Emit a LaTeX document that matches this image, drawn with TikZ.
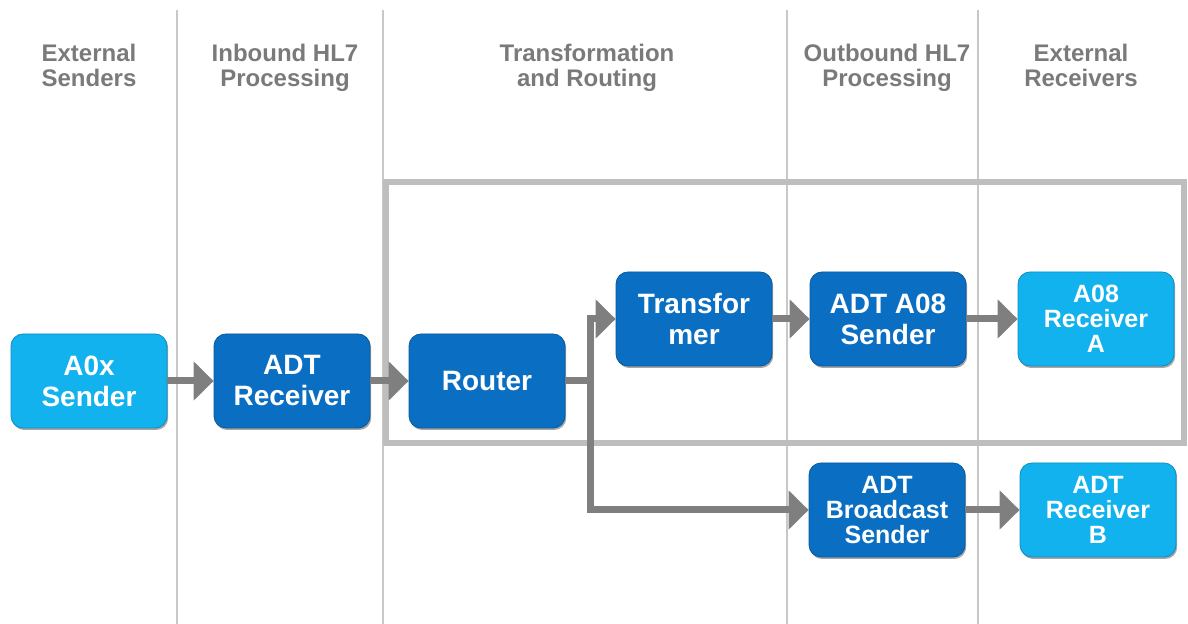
\documentclass[tikz,border=0pt]{standalone}
\usepackage{fontspec}
\setmainfont{Liberation Sans}
\usetikzlibrary{arrows.meta,shadows}
\definecolor{lblue}{HTML}{12B2EE}
\definecolor{dblue}{HTML}{0A6FC2}
\definecolor{sepgray}{HTML}{C8C8C8}
\definecolor{frgray}{HTML}{BEBEBE}
\definecolor{argray}{HTML}{7F7F7F}
\definecolor{hdgray}{HTML}{7A7A7A}
\tikzset{
  box/.style={rounded corners=6pt, minimum width=78pt, minimum height=47pt, inner sep=1pt,
    text=white, font=\bfseries\fontsize{14}{15.5}\selectfont, align=center,
    drop shadow={shadow xshift=0.6pt, shadow yshift=-1pt, opacity=0.35, fill=black}},
  smallbox/.style={box, font=\bfseries\fontsize{12.5}{12.5}\selectfont},
  lb/.style={fill=lblue, draw=lblue!80!black, line width=0.4pt},
  db/.style={fill=dblue, draw=dblue!80!black, line width=0.4pt},
  hdr/.style={text=hdgray, font=\bfseries\fontsize{12}{12.5}\selectfont, align=center,
    anchor=north, inner sep=0pt},
  sep/.style={draw=sepgray, line width=1pt},
  flow/.style={draw=argray, line width=3.5pt, -{Triangle[length=10pt,width=19pt]}},
}
\begin{document}
\begin{tikzpicture}[x=0.5pt,y=-0.5pt]
\useasboundingbox (0,0) rectangle (1188,624);
% separators
\foreach \xx in {177,383,787,978} \draw[sep] (\xx,10) -- (\xx,624);
% frame
\draw[draw=frgray, line width=3pt] (386,182) rectangle (1184,443);
% headers
\node[hdr] (h1) at (89,44) {External\\Senders};
\node[hdr] (h2) at (285,44) {Inbound HL7\\Processing};
\node[hdr] (h3) at (587,44) {Transformation\\and Routing};
\node[hdr] (h4) at (887,44) {Outbound HL7\\Processing};
\node[hdr] (h5) at (1081,44) {External\\Receivers};
% boxes
\node[box,lb] (snd) at (89,381) {A0x\\Sender};
\node[box,db] (rcv) at (292,381) {ADT\\Receiver};
\node[box,db] (rtr) at (487,381) {Router};
\node[box,db] (trf) at (694,319) {Transfor\\mer};
\node[box,db] (a08) at (888,319) {ADT A08\\Sender};
\node[smallbox,lb] (ra) at (1096,319) {A08\\Receiver\\A};
\node[smallbox,db] (bcs) at (887,510) {ADT\\Broadcast\\Sender};
\node[smallbox,lb] (rb) at (1098,510) {ADT\\Receiver\\B};
% connectors
\coordinate (j) at (590,381);
\draw[flow] (snd) -- (rcv);
\draw[flow] (rcv) -- (rtr);
\draw[draw=argray, line width=3.5pt] (rtr.east) -- (j);
\draw[flow] (j) |- (trf.west);
\draw[flow] (j) |- (bcs.west);
\draw[flow] (trf) -- (a08);
\draw[flow] (a08) -- (ra);
\draw[flow] (bcs) -- (rb);
\end{tikzpicture}
\end{document}
